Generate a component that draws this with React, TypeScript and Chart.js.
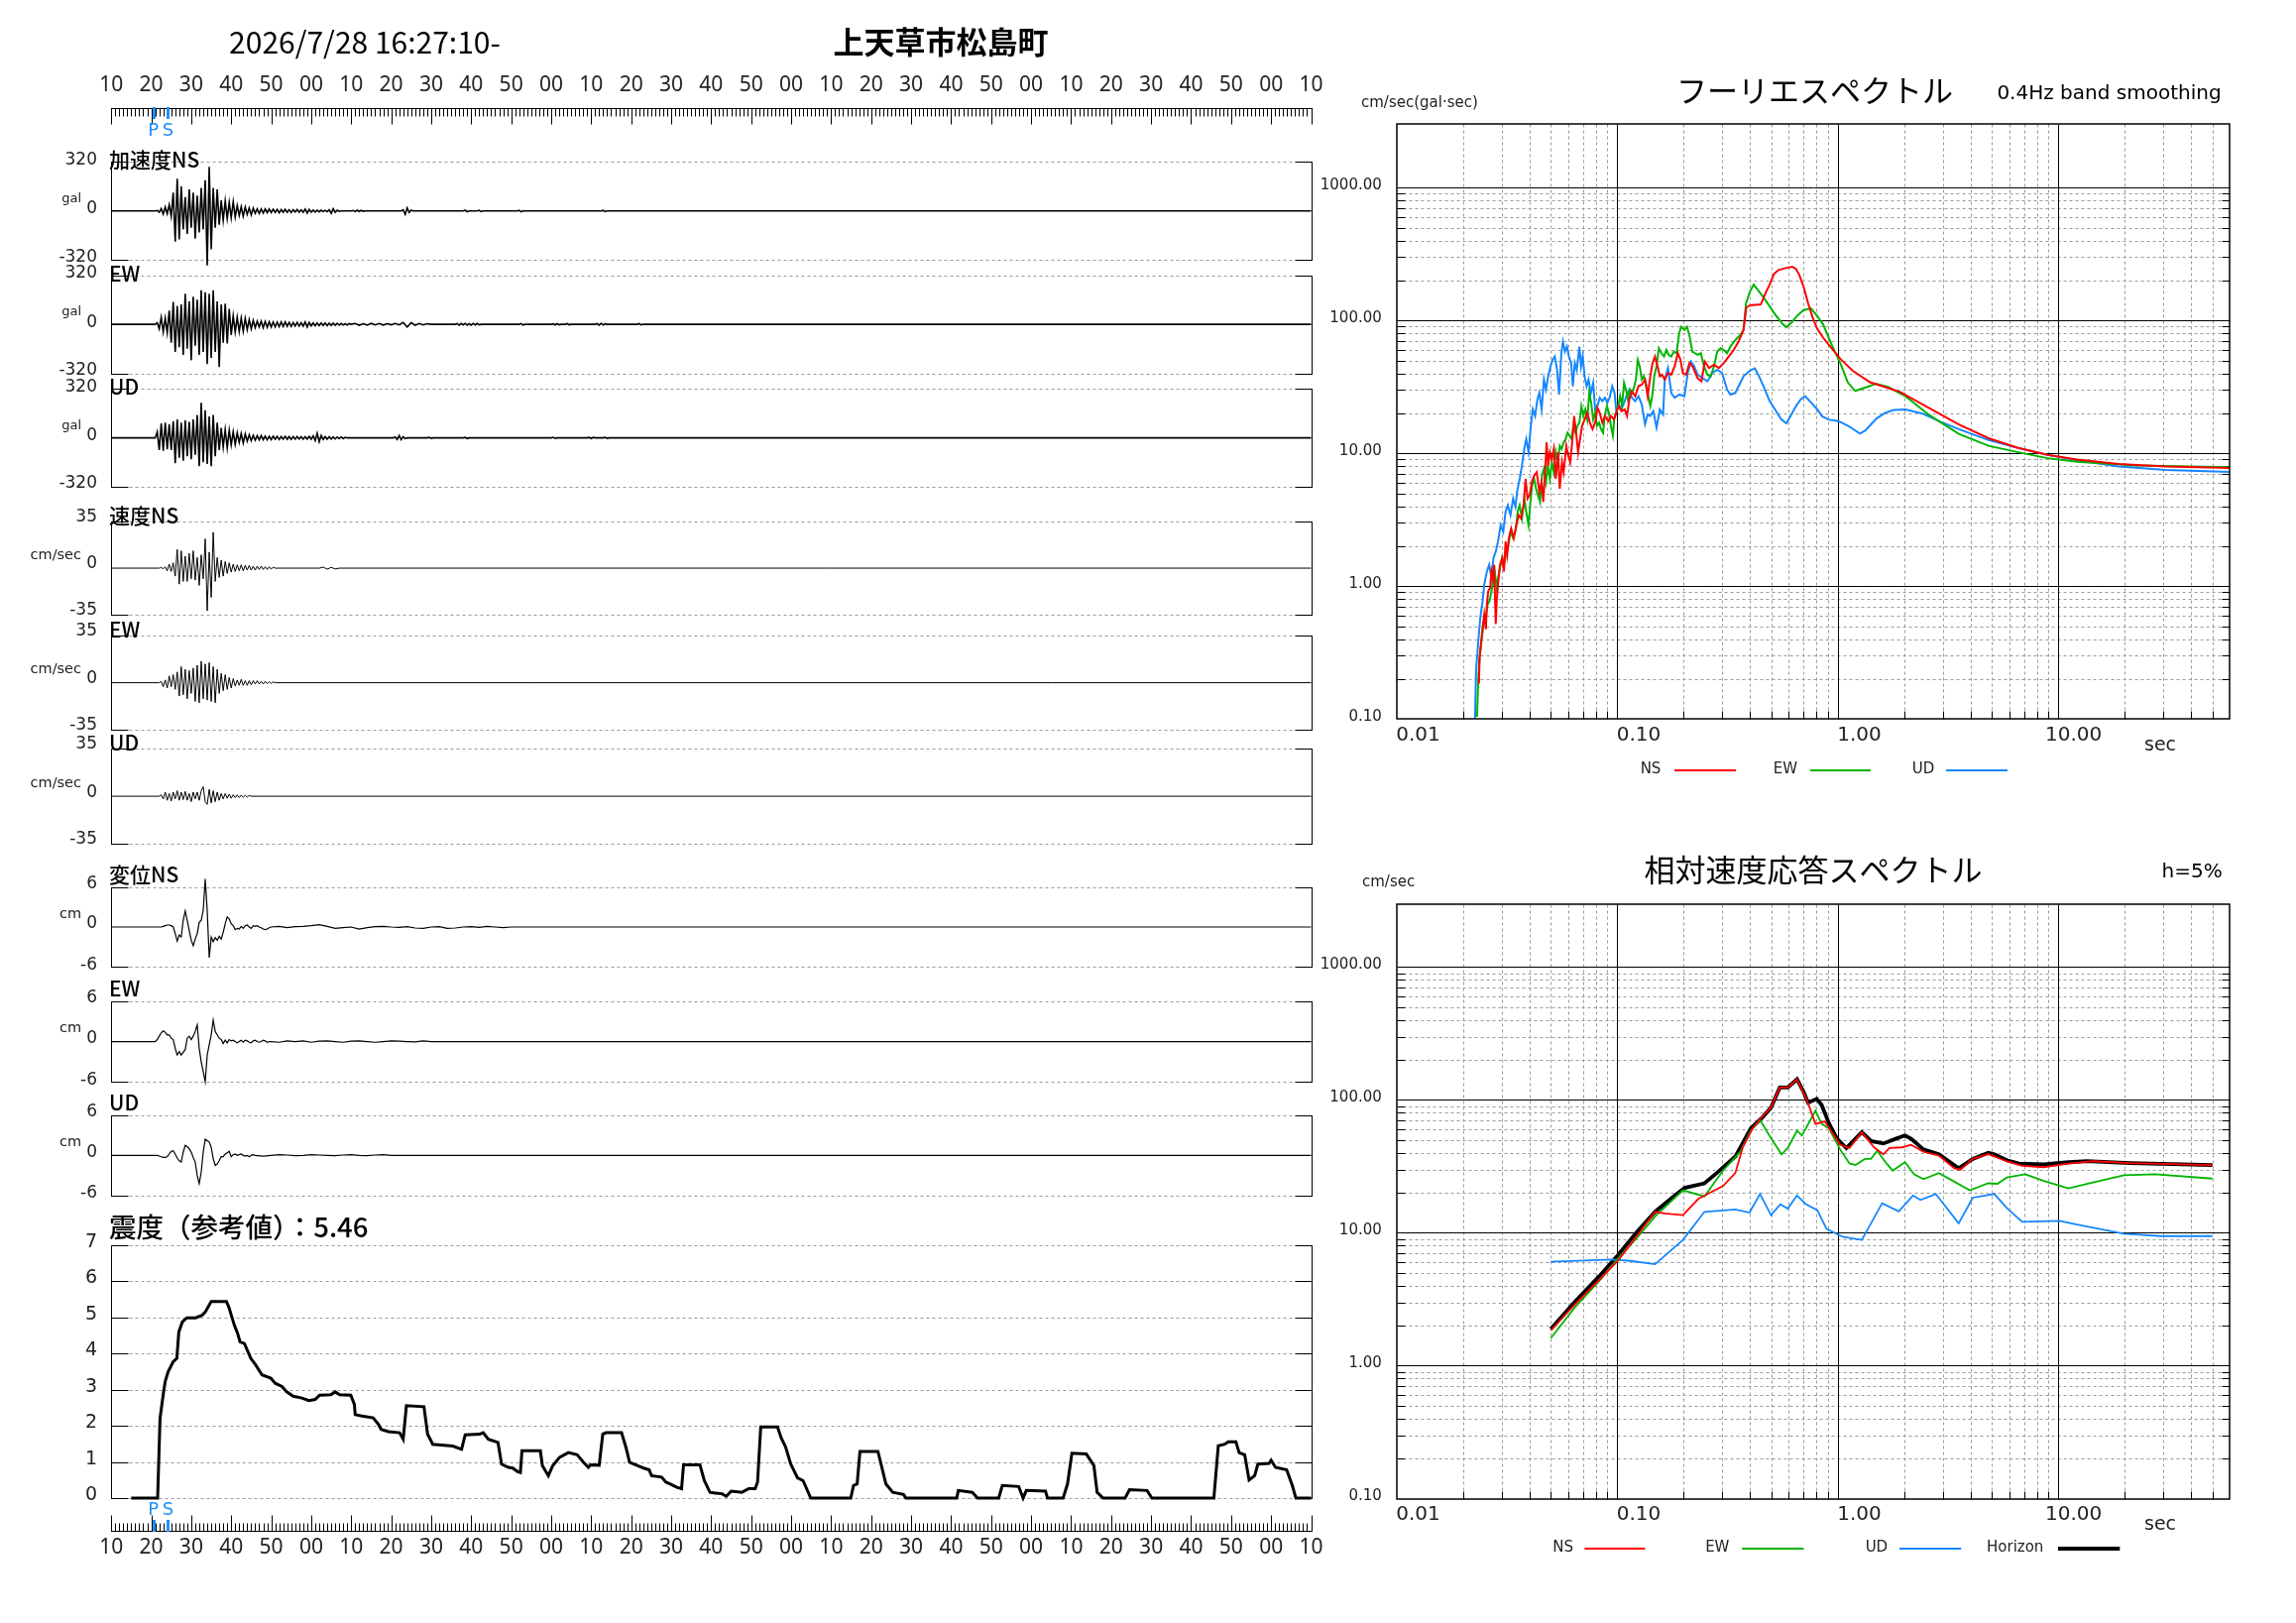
import React, { useEffect, useRef } from "react";
import { Chart, registerables } from "chart.js";
Chart.register(...registerables);

// ====================== DATA ======================
const TITLE_DATE = "2026/7/28 16:27:10-";
const TITLE_PLACE = "上天草市松島町";
// seconds after 16:27:10
const TIME_TICK_LABELS = ["10","20","30","40","50","00","10","20","30","40","50","00","10","20","30","40","50","00","10","20","30","40","50","00","10","20","30","40","50","00","10"];
const P_TIME = 10.5;
const S_TIME = 14.2;

const ACC_RANGE = 320;
const VEL_RANGE = 35;
const DISP_RANGE = 6;

// wave segments: [start time (s), sample step (s), values]
type Seg = [number, number, number[]];

const ACC_NS: Seg[] = [
  [11, 0.5, [0,3,-8,15,-20,25,-18,40,-35,120,-200,210,-185,160,-120,90,-150,140,-110,120,-180,100,-140,150,-120,200,-355,288,-250,150,-110,140,-90,70,-60,65,-50,55,-45,60,-40,35,-30,28,-35,25,-22,20,-25,18,-15,14,-16,12,-14,13,-11,12,-10,11,-9,10,-12,9,-8,10,-9,8,-10,8,-7,9,-8,7,-9,12,-14,10,-8,6,-7,5,-6,5,-4,4,-5,8,-15,14,-9,5,-3,0]],
  [60, 0.5, [0,3,-4,5,-3,4,-2,0]],
  [72.5, 0.5, [0,8,-22,20,-10,6,0]],
  [88, 0.5, [0,5,-5,0]],
  [91.5, 0.5, [0,4,-4,0]],
  [101.5, 0.5, [0,4,-5,0]],
  [122.5, 0.5, [0,4,-4,0]],
];
const ACC_EW: Seg[] = [
  [11, 0.5, [0,10,-30,45,-50,40,-55,90,-120,146,-180,120,-150,130,-200,200,-160,150,-235,180,-140,160,-200,222,-180,210,-260,200,-220,222,-180,150,-280,130,-120,135,-126,100,-70,55,-50,45,-48,40,-45,38,-35,30,-30,25,-22,20,-18,20,-22,18,-20,16,-18,15,-17,14,-16,15,-14,16,-13,12,-14,11,-12,13,-11,10,-12,15,-18,12,-10,9,-10,8,-9,8,-7,8,-9,7,-8,7,-6,7,-6,5,-5,4,-5,4,0]],
  [60, 1, [0,5,-6,4,-5,6,-4,5,-5,4,-3,5,-4,12,-18,10,-6,5,-4,4,0]],
  [86, 0.5, [0,4,-6,5,-4,6,-5,4,-5,6,-4,5,-3,0]],
  [102, 0.5, [0,5,-5,0]],
  [110, 0.5, [0,3,-4,4,-3,0]],
  [113.5, 0.5, [0,4,-3,0]],
  [121, 0.5, [0,4,-5,6,-4,3,0]],
  [131.5, 0.5, [0,4,-4,0]],
];
const ACC_UD: Seg[] = [
  [11, 0.5, [0,40,-80,95,-85,100,-75,90,-80,110,-165,120,-130,100,-150,115,-120,105,-140,120,-110,150,-185,230,-160,180,-170,140,-185,150,-120,100,-80,65,-60,55,-65,50,-45,40,-42,33,-30,28,-33,25,-22,20,-18,16,-15,14,-13,15,-12,11,-13,10,-12,11,-9,10,-11,9,-8,10,-9,8,-10,9,-8,9,-7,8,-9,7,-8,10,-9,12,-18,30,-25,15,-10,8,-9,7,-8,6,-7,6,-5,6,-5,4,0]],
  [70.5, 0.5, [0,6,-10,15,-12,8,-5,0]],
  [79, 0.5, [0,3,-3,0]],
  [88, 0.5, [0,3,-4,0]],
  [110, 0.5, [0,4,-3,0]],
  [119, 0.5, [0,3,-4,3,0]],
  [123, 0.5, [0,3,-3,0]],
];
const VEL_NS: Seg[] = [
  [12, 0.5, [0,0.5,-0.5,1,-2,3,-2.5,4,-6,14,-12,13,-10,9,-10,11,-8,13,-9,8,-13,10,-8,22,-32,12,-22,27,-10,8,-7,6,-6,5,-4,4,-3,3,-2.5,2.5,-2,2.5,-2,2,-1.5,2,-1.5,1.5,-1.5,1.5,-1,1.5,-1,1,-1,1,-0.8,0.8,0]],
  [52, 1, [0,0.8,-0.8,0.6,-0.6,0]],
];
const VEL_EW: Seg[] = [
  [12, 0.5, [0,1,-3,2,-4,5,-3,6,-5,8,-10,12,-9,10,-12,9,-8,11,-14,13,-15,16,-12,14,-13,15,-14,12,-15,10,-8,7,-6,6,-5,4,-4,3,-2.5,2,-2,2.5,-2,1.5,-2,1.5,-1.5,1.5,-1,1.5,-1,1,-1,1,-0.8,0.8,-0.6,0.6,0]],
];
const VEL_UD: Seg[] = [
  [12, 0.5, [0,1,-2,3,-3,2,-3.5,3,-2,4,-3,3,-2.5,3.5,-3,2,-4,3,-2,3,-3,4,7,-4,-6,5,-5,4,-4,3,-3,2,-2,2,-1.5,1.5,-1.5,1,-1,1,-1,0.8,-0.8,0.6,-0.6,0.5,0]],
];
const DISP_NS: Seg[] = [
  [12, 0.5, [0,0,0.1,0.2,0.3,0.3,0.2,0,-1.0,-2.1,-1.2,-1.5,1.0,2.4,1.0,-0.5,-2.0,-2.8,-1.8,-1.0,0.7,1.0,2.5,7.2,2.4,-4.6,-1.5,-2.2,-1.6,-2.0,-1.4,-1.8,-0.8,0.5,1.5,1.2,0.5,0.2,-0.4,-0.2,-0.3,0.1,-0.2,0.2,0.3,0,-0.2,0.2,0.1,0.2,0,-0.1,-0.3,-0.4,-0.3,-0.1,0]],
  [40, 2, [0,0.1,-0.1,0.05,0.1,0.2,0.35,0.1,-0.2,-0.1,0,-0.3,-0.1,0.05,0.1,0,-0.05,0.05,-0.15,-0.2,0,0.05,-0.2,-0.15,0,0.05,-0.05,0.1,0,-0.1,0]],
];
const DISP_EW: Seg[] = [
  [11, 0.5, [0,0.3,0.8,1.3,1.6,1.4,1.0,1.0,0.5,0.3,-1.0,-2.0,-1.5,-2.0,-1.6,-1.2,0.5,0.8,0.3,0.8,1.5,2.5,-1.0,-3.0,-4.5,-6.0,-2.0,-0.5,1.0,3.2,1.5,1.0,0.5,0.3,-0.3,0.2,-0.2,0.3,0.1,0.2,0,-0.2,0,0.2,-0.1,0.2,0.1,-0.1,-0.2,0.1,0.2,0,-0.1,0,0.2,0.1,-0.1,0,0]],
  [40, 2, [0,-0.1,0.1,0,0.1,-0.1,0.05,0.1,0,-0.1,0.05,0.1,0,-0.1,0,0.1,0.05,0,-0.05,0.1,0]],
];
const DISP_UD: Seg[] = [
  [11.5, 0.5, [0,-0.1,-0.2,-0.3,-0.3,-0.2,0.2,0.6,0.7,0.2,-0.4,-0.8,-1.0,0.5,1.5,1.3,1.0,0.5,-0.3,-1.0,-3.0,-4.2,-2.5,0.5,2.4,2.2,2.0,1.2,-0.5,-1.5,-1.3,-0.8,-0.2,-0.2,0.2,0.4,0.6,-0.2,0.1,0.2,0,0.1,0.2,0,-0.1,0,-0.2,0,0.1,0]],
  [36, 2, [0,-0.1,0,0.1,0.05,-0.05,0,0.1,0.05,0,-0.05,0.05,0.1,0,-0.05,0.05,0.1,0]],
];

// seismic intensity (reference value)
const INTENSITY_LABEL = "震度（参考値）：";
const INTENSITY_MAX_LABEL = "5.46";
const INTENSITY_TICKS = [0, 1, 2, 3, 4, 5, 6, 7];
const INTENSITY_T = [5.0,11.6,12.2,13.1,13.5,14.2,15.5,16.4,16.9,17.8,18.9,21.1,22.7,23.5,25.0,28.8,29.4,30.8,31.6,32.2,33.3,34.9,36.1,37.7,39.9,41.0,42.7,43.8,45.5,47.7,49.4,51.0,52.1,54.9,56.0,57.1,59.9,60.8,61.0,62.7,65.5,66.8,67.5,69.3,72.1,73.0,73.8,78.2,79.1,80.4,83.2,85.4,87.6,88.5,92.1,93.0,94.3,96.7,97.6,99.3,100.4,101.5,102.3,102.7,107.3,107.8,109.3,110.4,112.1,114.3,116.5,118.1,119.3,119.8,122.0,122.9,123.7,127.6,128.7,129.6,131.5,133.1,134.5,135.1,137.6,138.7,139.8,141.4,142.6,143.1,147.2,148.3,149.7,151.1,152.7,153.8,155.0,157.7,159.4,161.0,161.6,162.4,166.6,167.5,168.6,169.9,171.6,173.0,174.9,184.9,185.6,186.5,187.2,191.7,193.7,195.4,198.1,198.7,211.4,211.8,215.3,216.6,221.9,222.8,226.9,228.0,228.8,233.6,234.1,238.0,239.1,240.2,243.8,245.7,246.5,248.0,253.5,254.6,259.0,260.2,275.7,276.8,278.4,279.3,281.2,282.0,283.4,284.5,285.9,286.7,289.5,290.0,291.1,293.9,295.3,296.2,300.0];
const INTENSITY_V = [0,0,2.2,2.95,3.23,3.49,3.78,3.87,4.6,4.88,4.99,4.99,5.06,5.15,5.44,5.44,5.29,4.78,4.56,4.33,4.28,3.87,3.69,3.41,3.32,3.18,3.09,2.95,2.82,2.77,2.70,2.73,2.85,2.86,2.94,2.86,2.85,2.59,2.31,2.27,2.22,2.04,1.90,1.84,1.81,1.63,2.56,2.53,1.77,1.49,1.46,1.44,1.35,1.75,1.77,1.81,1.63,1.54,0.94,0.85,0.83,0.74,0.71,1.31,1.31,0.90,0.62,0.90,1.13,1.26,1.20,0.99,0.85,0.92,0.91,1.77,1.81,1.81,1.40,0.99,0.90,0.83,0.78,0.62,0.58,0.44,0.39,0.30,0.26,0.92,0.92,0.48,0.16,0.14,0.12,0.05,0.19,0.16,0.26,0.26,0.44,1.97,1.97,1.67,1.42,0.94,0.56,0.48,0,0,0.35,0.39,1.29,1.29,0.39,0.16,0.10,0,0,0.21,0.16,0,0,0.35,0.32,0,0.21,0.19,0,0,0.39,1.24,1.22,0.90,0.16,0,0,0.23,0.21,0,0,1.45,1.49,1.56,1.56,1.26,1.20,0.50,0.62,0.94,0.96,1.05,0.85,0.78,0.35,0,0];

// spectra axes
const SPEC_X_TICKS = [0.01, 0.1, 1, 10];
const SPEC_X_LABELS = ["0.01", "0.10", "1.00", "10.00"];
const SPEC_Y_TICKS = [0.1, 1, 10, 100, 1000];
const SPEC_Y_LABELS = ["0.10", "1.00", "10.00", "100.00", "1000.00"];

// Fourier spectrum (period s, cm/sec)
const FOURIER_NS_T = [0.02362,0.02378,0.02411,0.02454,0.02496,0.02539,0.02566,0.02602,0.02655,0.02692,0.02729,0.02766,0.02814,0.02843,0.02882,0.02942,0.03014,0.03066,0.03118,0.03172,0.03227,0.03305,0.03397,0.03491,0.03576,0.03664,0.03765,0.03843,0.03923,0.04005,0.04102,0.04201,0.04318,0.04437,0.04544,0.04624,0.04720,0.04785,0.04868,0.04952,0.05056,0.05161,0.05268,0.05395,0.05489,0.05622,0.05718,0.05877,0.06000,0.06124,0.06252,0.06381,0.06515,0.06650,0.06788,0.06929,0.07120,0.07318,0.07521,0.07730,0.07945,0.08137,0.08334,0.08565,0.08803,0.09113,0.09367,0.09661,0.09894,0.1017,0.1045,0.1082,0.1108,0.1135,0.1166,0.1207,0.1249,0.1293,0.1338,0.1375,0.1413,0.1447,0.1483,0.1524,0.1561,0.1599,0.1643,0.1700,0.1759,0.1821,0.1884,0.1937,0.1984,0.2053,0.2125,0.2199,0.2315,0.2411,0.2495,0.2610,0.2748,0.2892,0.3044,0.3206,0.3374,0.3552,0.3739,0.385,0.40,0.448,0.47,0.491,0.515,0.539,0.58,0.622,0.645,0.669,0.70,0.734,0.77,0.806,0.86,0.912,1.03,1.167,1.40,1.91,2.6,3.54,4.83,6.57,8.93,12.2,18.8,30.8,60];
const FOURIER_NS_A = [0.185,0.292,0.367,0.489,0.615,0.475,0.730,0.918,0.972,1.29,1.15,1.45,0.518,0.773,1.03,1.45,1.63,1.29,2.17,1.72,2.30,2.72,2.30,2.88,3.43,3.24,4.07,6.43,4.56,4.83,6.07,6.81,7.21,5.12,6.07,4.31,7.64,12.1,8.08,10.2,9.07,10.8,6.43,10.2,5.42,8.57,7.21,11.4,9.60,8.57,12.1,19.1,14.3,10.2,12.8,16.1,18.0,20.2,17.0,15.2,17.0,22.0,20.2,17.0,19.1,17.5,19.1,18.0,20.2,22.7,20.8,21.4,19.1,25.4,29.4,26.9,32.0,32.9,35.9,26.9,38.0,47.8,53.6,45.1,38.0,39.1,35.9,40.2,39.1,45.1,56.7,50.6,40.2,39.1,47.8,45.1,36.9,34.8,49.1,43.9,46.4,43.9,47.8,53.6,60.0,69.3,84.8,125,130,132,160,186,225,240,248,254,245,221,180,135,105,87,74,65.5,51.3,42,34.3,29.1,21.9,16.5,13.0,11.0,9.76,9.0,8.3,7.96,7.78];
const FOURIER_EW_T = [0.02315,0.02347,0.02378,0.02428,0.02478,0.02539,0.02583,0.02636,0.02692,0.02748,0.02786,0.02843,0.02882,0.02942,0.03003,0.03066,0.03129,0.03194,0.03283,0.03374,0.03456,0.03540,0.03613,0.03701,0.03791,0.03870,0.03963,0.04031,0.04115,0.04201,0.04288,0.04377,0.04468,0.04560,0.04656,0.04753,0.04851,0.04952,0.05056,0.05161,0.05268,0.05377,0.05489,0.05603,0.05718,0.05838,0.05959,0.06082,0.06209,0.06339,0.06470,0.06604,0.06741,0.06882,0.07025,0.07170,0.07318,0.07470,0.07625,0.07783,0.07945,0.08110,0.08279,0.08450,0.08626,0.08803,0.08989,0.09177,0.09367,0.09561,0.09694,0.09894,0.1010,0.1031,0.1052,0.1074,0.1096,0.1119,0.1142,0.1166,0.1191,0.1215,0.1241,0.1266,0.1293,0.1320,0.1347,0.1375,0.1413,0.1442,0.1472,0.1509,0.1545,0.1588,0.1632,0.1671,0.1712,0.1759,0.1808,0.1858,0.1910,0.1950,0.2018,0.2074,0.2132,0.2191,0.2253,0.2315,0.2396,0.2478,0.2565,0.2655,0.2748,0.2843,0.2943,0.3044,0.3150,0.3261,0.3432,0.3613,0.3739,0.384,0.40,0.416,0.44,0.4625,0.52,0.56,0.585,0.62,0.649,0.70,0.757,0.80,0.857,0.94,1.03,1.11,1.2,1.36,1.49,1.69,2.03,2.6,3.54,4.83,6.57,8.93,12.2,22.6,60];
const FOURIER_EW_A = [0.104,0.207,0.292,0.389,0.518,0.581,0.730,0.773,0.918,1.09,1.29,0.972,1.15,1.37,1.63,1.45,1.72,1.93,2.57,2.30,2.57,3.63,4.07,3.24,4.56,3.63,2.88,4.07,5.74,6.43,5.42,4.83,4.31,6.81,7.64,6.07,8.08,6.43,8.57,7.21,10.2,8.57,11.4,10.8,12.1,12.8,14.3,13.6,12.8,16.1,14.3,16.1,17.0,22.7,19.1,21.4,18.0,28.5,24.0,18.0,20.2,16.1,17.0,15.2,14.3,19.6,22.7,20.2,16.1,13.6,18.0,20.2,22.7,26.9,22.7,33.9,30.2,25.4,30.2,28.5,31.1,35.9,50.6,45.1,35.9,38.0,33.9,28.5,22.7,26.9,38.0,45.1,61.8,56.7,53.6,60.0,55.1,53.6,58.4,56.7,80.0,89.7,84.8,89.7,75.5,58.4,56.7,55.1,56.7,45.1,39.1,38.0,45.1,58.4,61.8,60.0,56.7,63.6,71.3,77.6,84.8,135,165,186,165,148,111,95,89,97,107,120,123,110,94,65.5,47.3,34.3,29.5,31.6,33.4,31.6,26.9,19.4,14.0,11.4,10.2,9.2,8.65,8.1,7.86];
const FOURIER_UD_T = [0.02267,0.02291,0.02347,0.02395,0.02454,0.02496,0.02566,0.02628,0.02692,0.02748,0.02814,0.02882,0.02962,0.03044,0.03118,0.03194,0.03283,0.03374,0.03456,0.03516,0.03613,0.03701,0.03791,0.03870,0.03963,0.04059,0.04143,0.04244,0.04347,0.04437,0.04544,0.04656,0.04753,0.04868,0.04986,0.05089,0.05213,0.05340,0.05451,0.05583,0.05679,0.05798,0.05918,0.06041,0.06187,0.06295,0.06425,0.06558,0.06741,0.06857,0.06975,0.07120,0.07268,0.07419,0.07599,0.07783,0.07945,0.08137,0.08334,0.08565,0.08803,0.09016,0.09239,0.09496,0.09727,0.09894,0.1017,0.1045,0.1074,0.1108,0.1135,0.1166,0.1207,0.1249,0.1293,0.1338,0.1375,0.1413,0.1458,0.1509,0.1561,0.1615,0.1643,0.1700,0.1759,0.1821,0.1917,0.2018,0.2089,0.2162,0.2237,0.2315,0.2437,0.2565,0.2700,0.2843,0.2992,0.3150,0.3261,0.3432,0.3613,0.3739,0.40,0.421,0.44,0.4625,0.49,0.523,0.555,0.585,0.62,0.649,0.68,0.712,0.76,0.806,0.85,0.912,0.97,1.03,1.13,1.26,1.33,1.40,1.5,1.64,1.8,2.03,2.45,2.94,3.54,4.83,6.57,8.93,12.2,18.8,30.8,60];
const FOURIER_UD_A = [0.101,0.232,0.389,0.581,0.773,1.03,1.29,1.45,1.15,1.63,1.82,2.17,2.88,2.57,3.63,4.07,3.43,4.56,3.95,5.12,6.43,8.08,10.8,12.8,10.2,16.1,21.4,19.1,25.4,28.5,21.4,35.9,30.2,38.0,45.1,50.6,53.6,42.6,27.7,56.7,69.3,58.4,63.6,53.6,47.8,32.0,47.8,42.6,63.6,45.1,53.6,38.0,32.0,35.9,28.5,33.9,21.4,22.7,26.2,24.7,26.2,24.0,26.2,32.0,28.5,21.4,23.3,21.4,24.0,27.7,30.2,26.2,24.7,26.9,23.3,16.6,19.6,19.1,20.8,15.6,21.4,19.6,35.9,43.9,28.5,26.2,27.7,26.9,40.2,49.1,45.1,39.1,36.9,34.8,40.2,42.6,40.2,30.2,27.7,28.5,33.9,38.0,42,43.7,38,31.6,25,21,18,16.8,20,22.9,25.5,26.9,24,21.5,19,17.9,17.7,17.2,15.9,14.1,14.8,16.2,18.3,20.2,21.2,21.4,19.8,17.2,15.2,12.6,11.0,9.76,8.85,7.96,7.5,7.24];

// relative velocity response spectrum h=5% (period s, cm/sec)
const RESP_NS_T = [0.05,0.0643,0.0832,0.101,0.1225,0.1486,0.1637,0.1986,0.2333,0.2569,0.3018,0.3433,0.3709,0.4112,0.4442,0.4987,0.5459,0.5935,0.6537,0.72,0.7929,0.8735,0.9316,1.026,1.13,1.286,1.462,1.611,1.718,1.954,2.152,2.448,2.876,3.378,3.603,4.098,4.814,5.841,6.861,8.597,11.12,14.39,21.18,50];
const RESP_NS_V = [1.84,2.9,4.45,6.2,9.4,14.4,14.0,13.6,18,19.6,22.5,28.2,44,61,71.8,88,124,124,143,103,66,69,58.7,46,43.4,57.3,44,39,43.5,44,46,40.7,38.1,30.6,29.9,36,39,34.6,31.9,31.2,33.2,34.6,33.5,32.4];
const RESP_EW_T = [0.05,0.0643,0.0832,0.101,0.1225,0.1486,0.1986,0.2487,0.3018,0.3614,0.4034,0.4442,0.4893,0.5565,0.5935,0.6537,0.6882,0.7929,0.8458,0.9138,1.026,1.13,1.205,1.328,1.416,1.51,1.663,1.774,2.018,2.223,2.448,2.876,3.271,3.968,4.814,5.303,5.841,7.086,8.597,11.12,14.39,19.86,27.41,50];
const RESP_EW_V = [1.61,2.75,4.37,6.4,9.1,13.3,20.9,18.8,29.4,40.8,58.7,70.8,54,39,43.5,58.7,54,83,66,61,42.4,33.3,32.4,36,36,41.4,33.3,29.4,34,27.5,25.4,28.2,25,20.9,23.6,23.4,26.1,27.6,24.6,21.6,24,27.1,27.6,25.6];
const RESP_UD_T = [0.05,0.0709,0.0947,0.1149,0.1486,0.1986,0.2487,0.3433,0.3981,0.4442,0.4987,0.5494,0.5935,0.6537,0.72,0.8085,0.8906,1.06,1.286,1.59,1.892,2.194,2.371,2.785,3.534,4.098,5.135,5.841,6.861,10.1,12.65,19.86,29.23,50];
const RESP_UD_V = [6.05,6.2,6.3,6.15,5.8,8.85,14.4,15,14.2,19.6,13.6,16.4,15.2,19.1,16.4,14.8,10.7,9.3,8.85,16.7,14.5,19.1,17.7,19.6,11.8,18.4,19.6,15.4,12.1,12.3,11.4,9.84,9.45,9.45];
const RESP_H_T = [0.05,0.0643,0.0832,0.101,0.1225,0.1486,0.1803,0.2025,0.2487,0.2829,0.3433,0.4034,0.4587,0.4987,0.5459,0.5935,0.6537,0.6971,0.734,0.8032,0.8458,0.9138,0.9936,1.094,1.286,1.416,1.611,1.832,2.018,2.152,2.448,2.876,3.534,4.098,4.814,5.135,5.841,6.643,8.597,11.12,13.49,21.18,50];
const RESP_H_V = [1.89,3.03,4.74,6.82,10.1,14.4,18.8,21.8,23.6,28.2,37.5,61,74.8,88,124,124,143,117,95.5,102,91.6,66.2,51,43.4,57.3,49,47,51,54,51,42.4,39,30.6,36,40,39,35.2,33.2,32.7,34,34.6,33.5,32.4];

// ====================== LAYOUT / STYLE ======================
const W = 2316, H = 1637;
const PLOT_L = 112.2, PLOT_R = 1322.5;
const RED = "#ff0000", GREEN = "#00b400", BLUE = "#1487ff", PS_BLUE = "#1e8fff";
const NUM_FONT = '17px "DejaVu Sans"';
const TIME_FONT = '21px "Noto Sans"';
const NAME_FONT = '500 21px "Noto Sans CJK JP"';

type Box = { left: number; top: number; width: number; height: number };
type Area = { l: number; t: number; r: number; b: number };

const c = (v: number) => Math.round(v) + 0.5;
function line(ctx: any, x1: number, y1: number, x2: number, y2: number) {
  ctx.beginPath(); ctx.moveTo(x1, y1); ctx.lineTo(x2, y2); ctx.stroke();
}
function txt(ctx: any, s: string, x: number, y: number, font: string, align: CanvasTextAlign = "left", color = "#000") {
  ctx.font = font; ctx.textAlign = align; ctx.textBaseline = "middle"; ctx.fillStyle = color; ctx.fillText(s, x, y);
}

function baseOptions(box: Box, area: Area, x: any, y: any) {
  return {
    responsive: false, maintainAspectRatio: false, animation: false, devicePixelRatio: 1, events: [],
    layout: { padding: { left: area.l - box.left, right: box.left + box.width - area.r, top: area.t - box.top, bottom: box.top + box.height - area.b } },
    plugins: { legend: { display: false }, tooltip: { enabled: false }, title: { display: false } },
    scales: { x: { ...x, display: false }, y: { ...y, display: false } },
  };
}

function traceFromSegs(segs: Seg[]) {
  const pts: { x: number; y: number }[] = [{ x: 0, y: 0 }];
  for (const [t0, step, vals] of segs) vals.forEach((v, i) => pts.push({ x: t0 + i * step, y: v }));
  pts.push({ x: 300, y: 0 });
  return pts;
}

function drawRuler(ctx: any, sx: (v: number) => number, y: number, dir: number, labelY: number, psTextY: number, psY0: number, psY1: number) {
  ctx.strokeStyle = "#000"; ctx.lineWidth = 1; ctx.setLineDash([]);
  line(ctx, c(PLOT_L) - 0.5, c(y), c(PLOT_R) + 0.5, c(y));
  for (let s = 0; s <= 300; s++) {
    const x = c(sx(s));
    const len = s % 10 === 0 ? 16 : 8;
    line(ctx, x, c(y), x, c(y) + dir * len);
  }
  TIME_TICK_LABELS.forEach((lab, i) => txt(ctx, lab, sx(i * 10), labelY, TIME_FONT, "center", "#222"));
  ctx.fillStyle = PS_BLUE;
  for (const t of [P_TIME, S_TIME]) ctx.fillRect(Math.round(sx(t)) - 1, psY0, 3, psY1 - psY0);
  txt(ctx, "P", sx(P_TIME), psTextY, '18px "DejaVu Sans"', "center", PS_BLUE);
  txt(ctx, "S", sx(S_TIME), psTextY, '18px "DejaVu Sans"', "center", PS_BLUE);
}

function ChartBox({ box, build }: { box: Box; build: () => any }) {
  const ref = useRef<HTMLCanvasElement | null>(null);
  useEffect(() => {
    if (!ref.current) return;
    const chart = new Chart(ref.current, build());
    return () => chart.destroy();
  }, []);
  return (
    <canvas ref={ref} width={box.width} height={box.height}
      style={{ position: "absolute", left: box.left, top: box.top, width: box.width, height: box.height }} />
  );
}

// ---------- header (titles + top time ruler) ----------
const HEADER_BOX: Box = { left: 0, top: 0, width: 1400, height: 145 };
const RULER_TOP_Y = 109;
function buildHeader() {
  const box = HEADER_BOX;
  const area = { l: PLOT_L, r: PLOT_R, t: RULER_TOP_Y, b: RULER_TOP_Y + 16 };
  return {
    type: "line",
    data: { datasets: [] },
    options: baseOptions(box, area, { type: "linear", min: 0, max: 300 }, { type: "linear", min: 0, max: 1 }),
    plugins: [{
      id: "header",
      afterDraw(chart: any) {
        const ctx = chart.ctx; ctx.save(); ctx.translate(-box.left, -box.top);
        const sx = (v: number) => chart.scales.x.getPixelForValue(v) + box.left;
        drawRuler(ctx, sx, RULER_TOP_Y, 1, 86, 132, 108, 120);
        txt(ctx, TITLE_DATE, 368, 43, '30px "Noto Sans CJK JP"', "center");
        txt(ctx, TITLE_PLACE, 949, 42, 'bold 31px "Noto Sans CJK JP"', "center");
        ctx.restore();
      },
    }],
  };
}

// ---------- waveform panels ----------
type Kind = "acc" | "vel" | "disp";
const KIND_STYLE: Record<Kind, any> = {
  acc: { nameDy: -2, topDy: -2, zeroDy: -2, botDy: -3, unitDy: -12, lw: 1.6, unitFont: '13px "DejaVu Sans"' },
  vel: { nameDy: -6, topDy: -5, zeroDy: -4, botDy: -4, unitDy: -13, lw: 1, unitFont: '14.5px "DejaVu Sans"' },
  disp: { nameDy: -13, topDy: -3, zeroDy: -3, botDy: -2, unitDy: -13, lw: 1.2, unitFont: '14.5px "DejaVu Sans"' },
};
type Panel = { name: string; unit: string; range: number; top: number; bottom: number; segs: Seg[]; kind: Kind };
const PANELS: Panel[] = [
  { name: "加速度NS", unit: "gal", range: ACC_RANGE, top: 163.3, bottom: 262.3, segs: ACC_NS, kind: "acc" },
  { name: "EW", unit: "gal", range: ACC_RANGE, top: 277.7, bottom: 376.5, segs: ACC_EW, kind: "acc" },
  { name: "UD", unit: "gal", range: ACC_RANGE, top: 392.3, bottom: 491.0, segs: ACC_UD, kind: "acc" },
  { name: "速度NS", unit: "cm/sec", range: VEL_RANGE, top: 526.1, bottom: 620.0, segs: VEL_NS, kind: "vel" },
  { name: "EW", unit: "cm/sec", range: VEL_RANGE, top: 641.4, bottom: 735.8, segs: VEL_EW, kind: "vel" },
  { name: "UD", unit: "cm/sec", range: VEL_RANGE, top: 755.2, bottom: 851.0, segs: VEL_UD, kind: "vel" },
  { name: "変位NS", unit: "cm", range: DISP_RANGE, top: 894.7, bottom: 975.3, segs: DISP_NS, kind: "disp" },
  { name: "EW", unit: "cm", range: DISP_RANGE, top: 1010.0, bottom: 1091.1, segs: DISP_EW, kind: "disp" },
  { name: "UD", unit: "cm", range: DISP_RANGE, top: 1124.8, bottom: 1205.9, segs: DISP_UD, kind: "disp" },
];
const panelBox = (p: Panel): Box => ({ left: 0, top: Math.floor(p.top - 30), width: 1400, height: Math.ceil(p.bottom - p.top + 48) });

function buildPanel(p: Panel) {
  const box = panelBox(p);
  const st = KIND_STYLE[p.kind];
  const area = { l: PLOT_L, r: PLOT_R, t: p.top, b: p.bottom };
  return {
    type: "line",
    data: { datasets: [{ data: traceFromSegs(p.segs), borderColor: "#000", borderWidth: st.lw, pointRadius: 0, tension: 0, fill: false, clip: 14 }] },
    options: baseOptions(box, area, { type: "linear", min: 0, max: 300 }, { type: "linear", min: -p.range, max: p.range }),
    plugins: [{
      id: "wavepanel",
      beforeDatasetsDraw(chart: any) {
        const ctx = chart.ctx; ctx.save(); ctx.translate(-box.left, -box.top);
        const L = c(PLOT_L), R = c(PLOT_R), T = c(p.top), B = c(p.bottom);
        ctx.lineWidth = 1; ctx.strokeStyle = "#9a9a9a"; ctx.setLineDash([3, 3]);
        line(ctx, L, T, R, T); line(ctx, L, B, R, B);
        ctx.setLineDash([]); ctx.strokeStyle = "#000";
        line(ctx, L, T, L, B); line(ctx, R, T, R, B);
        for (const y of [T, B]) { line(ctx, L - 0.5, y, L + 17, y); line(ctx, R - 17, y, R + 0.5, y); }
        ctx.restore();
      },
      afterDraw(chart: any) {
        const ctx = chart.ctx; ctx.save(); ctx.translate(-box.left, -box.top);
        const zero = chart.scales.y.getPixelForValue(0) + box.top;
        txt(ctx, String(p.range), 98, p.top + st.topDy, NUM_FONT, "right", "#222");
        txt(ctx, "0", 98, zero + st.zeroDy, NUM_FONT, "right", "#222");
        txt(ctx, "-" + p.range, 98, p.bottom + st.botDy, NUM_FONT, "right", "#222");
        txt(ctx, p.unit, 82, zero + st.unitDy, st.unitFont, "right", "#222");
        txt(ctx, p.name, 110, p.top + st.nameDy, NAME_FONT, "left", "#000");
        ctx.restore();
      },
    }],
  };
}

// ---------- intensity ----------
const INT_BOX: Box = { left: 0, top: 1215, width: 1400, height: 380 };
const INT_AREA: Area = { l: PLOT_L, r: PLOT_R, t: 1256, b: 1511 };
function buildIntensity() {
  const box = INT_BOX;
  return {
    type: "line",
    data: { datasets: [{ data: INTENSITY_T.map((t, i) => ({ x: t, y: INTENSITY_V[i] })), borderColor: "#000", borderWidth: 3, pointRadius: 0, tension: 0, fill: false, clip: 4 }] },
    options: baseOptions(box, INT_AREA, { type: "linear", min: 0, max: 300 }, { type: "linear", min: 0, max: 7 }),
    plugins: [{
      id: "intensity",
      beforeDatasetsDraw(chart: any) {
        const ctx = chart.ctx; ctx.save(); ctx.translate(-box.left, -box.top);
        const sy = (v: number) => chart.scales.y.getPixelForValue(v) + box.top;
        const L = c(PLOT_L), R = c(PLOT_R);
        ctx.lineWidth = 1; ctx.strokeStyle = "#9a9a9a"; ctx.setLineDash([3, 3]);
        for (const v of INTENSITY_TICKS) line(ctx, L, c(sy(v)), R, c(sy(v)));
        ctx.setLineDash([]); ctx.strokeStyle = "#000";
        line(ctx, L, c(sy(7)), L, c(sy(0))); line(ctx, R, c(sy(7)), R, c(sy(0)));
        for (const v of INTENSITY_TICKS) { const y = c(sy(v)); line(ctx, L - 0.5, y, L + 17, y); line(ctx, R - 17, y, R + 0.5, y); }
        ctx.restore();
      },
      afterDraw(chart: any) {
        const ctx = chart.ctx; ctx.save(); ctx.translate(-box.left, -box.top);
        const sx = (v: number) => chart.scales.x.getPixelForValue(v) + box.left;
        const sy = (v: number) => chart.scales.y.getPixelForValue(v) + box.top;
        for (const v of INTENSITY_TICKS) txt(ctx, String(v), 98, sy(v) - 3, '19px "DejaVu Sans"', "right", "#222");
        txt(ctx, INTENSITY_LABEL + INTENSITY_MAX_LABEL, 110, 1238, '500 27.5px "Noto Sans CJK JP"', "left", "#000");
        drawRuler(ctx, sx, 1544, -1, 1561, 1523, 1533, 1545);
        ctx.restore();
      },
    }],
  };
}

// ---------- spectra ----------
type LegendItem = { label: string; color: string; width: number; textX: number; x0: number; x1: number };
type SpecDef = {
  box: Box; area: Area; title: string; titleX: number; titleY: number;
  note: string; noteX: number; noteY: number; unit: string; unitX: number; unitY: number;
  legendY: number; legend: LegendItem[]; datasets: any[];
};

function specPlugin(d: SpecDef) {
  const { box, area } = d;
  const mk = (chart: any) => ({
    sx: (v: number) => chart.scales.x.getPixelForValue(v) + box.left,
    sy: (v: number) => chart.scales.y.getPixelForValue(v) + box.top,
  });
  return {
    id: "spec",
    beforeDatasetsDraw(chart: any) {
      const ctx = chart.ctx; ctx.save(); ctx.translate(-box.left, -box.top);
      const { sx, sy } = mk(chart);
      const L = c(area.l), R = c(area.r), T = c(area.t), B = c(area.b);
      ctx.lineWidth = 1; ctx.strokeStyle = "#9a9a9a"; ctx.setLineDash([3, 3]);
      const xMinor: number[] = [], yMinor: number[] = [];
      for (const n of [-2, -1, 0, 1]) for (let k = 2; k <= 9; k++) { const v = k * Math.pow(10, n); if (v < 60) xMinor.push(v); }
      for (const n of [-1, 0, 1, 2]) for (let k = 2; k <= 9; k++) yMinor.push(k * Math.pow(10, n));
      for (const v of xMinor) { const x = c(sx(v)); line(ctx, x, T, x, B); }
      for (const v of yMinor) { const y = c(sy(v)); line(ctx, L, y, R, y); }
      ctx.setLineDash([]); ctx.strokeStyle = "#000";
      for (const v of xMinor) { const x = c(sx(v)); line(ctx, x, B, x, B - 8); }
      for (const v of yMinor) { const y = c(sy(v)); line(ctx, L, y, L + 8, y); line(ctx, R - 8, y, R, y); }
      for (const v of [0.1, 1, 10]) { const x = c(sx(v)); line(ctx, x, T, x, B); }
      for (const v of [1, 10, 100, 1000]) { const y = c(sy(v)); line(ctx, L, y, R, y); }
      ctx.restore();
    },
    afterDatasetsDraw(chart: any) {
      const ctx = chart.ctx; ctx.save(); ctx.translate(-box.left, -box.top);
      ctx.strokeStyle = "#000"; ctx.lineWidth = 1.5; ctx.setLineDash([]);
      ctx.strokeRect(Math.round(area.l), Math.round(area.t), Math.round(area.r) - Math.round(area.l), Math.round(area.b) - Math.round(area.t));
      ctx.restore();
    },
    afterDraw(chart: any) {
      const ctx = chart.ctx; ctx.save(); ctx.translate(-box.left, -box.top);
      const { sx, sy } = mk(chart);
      SPEC_Y_TICKS.forEach((v, i) => txt(ctx, SPEC_Y_LABELS[i], area.l - 15, sy(v) - 2, '15px "DejaVu Sans"', "right", "#222"));
      SPEC_X_TICKS.forEach((v, i) => txt(ctx, SPEC_X_LABELS[i], sx(v) + 44, area.b + 16.5, '20px "DejaVu Sans"', "right", "#222"));
      txt(ctx, "sec", 2179, area.b + 27, '19px "DejaVu Sans"', "center", "#222");
      txt(ctx, d.title, d.titleX, d.titleY, '31px "Noto Sans CJK JP"', "center", "#000");
      txt(ctx, d.note, d.noteX, d.noteY, '20px "DejaVu Sans"', "left", "#000");
      txt(ctx, d.unit, d.unitX, d.unitY, '15px "DejaVu Sans"', "left", "#222");
      for (const it of d.legend) {
        txt(ctx, it.label, it.textX, d.legendY, '15px "DejaVu Sans"', "center", "#222");
        ctx.strokeStyle = it.color; ctx.lineWidth = it.width; ctx.setLineDash([]);
        line(ctx, it.x0, d.legendY + 1, it.x1, d.legendY + 1);
      }
      ctx.restore();
    },
  };
}

function specDataset(T: number[], V: number[], color: string, width: number) {
  return { data: T.map((t, i) => ({ x: t, y: V[i] })), borderColor: color, borderWidth: width, pointRadius: 0, tension: 0, fill: false };
}

function buildSpec(d: SpecDef) {
  return {
    type: "line",
    data: { datasets: d.datasets },
    options: baseOptions(d.box, d.area, { type: "logarithmic", min: 0.01, max: 60 }, { type: "logarithmic", min: 0.1, max: 3000 }),
    plugins: [specPlugin(d)],
  };
}

const FOURIER_DEF: SpecDef = {
  box: { left: 1330, top: 40, width: 986, height: 780 },
  area: { l: 1408.8, t: 125.3, r: 2249.3, b: 725.3 },
  title: "フーリエスペクトル", titleX: 1830.6, titleY: 91,
  note: "0.4Hz band smoothing", noteX: 2014.4, noteY: 95,
  unit: "cm/sec(gal·sec)", unitX: 1373, unitY: 104.5,
  legendY: 776,
  legend: [
    { label: "NS", color: RED, width: 2, textX: 1665, x0: 1689, x1: 1751 },
    { label: "EW", color: GREEN, width: 2, textX: 1801, x0: 1826, x1: 1887 },
    { label: "UD", color: BLUE, width: 2, textX: 1940, x0: 1963, x1: 2025 },
  ],
  datasets: [
    specDataset(FOURIER_NS_T, FOURIER_NS_A, RED, 2),
    specDataset(FOURIER_EW_T, FOURIER_EW_A, GREEN, 2),
    specDataset(FOURIER_UD_T, FOURIER_UD_A, BLUE, 2),
  ],
};

const RESP_DEF: SpecDef = {
  box: { left: 1330, top: 830, width: 986, height: 790 },
  area: { l: 1408.8, t: 911.5, r: 2249.3, b: 1511.5 },
  title: "相対速度応答スペクトル", titleX: 1829, titleY: 877,
  note: "h=5%", noteX: 2180.6, noteY: 880,
  unit: "cm/sec", unitX: 1374, unitY: 890,
  legendY: 1561,
  legend: [
    { label: "NS", color: RED, width: 2, textX: 1576.6, x0: 1598.4, x1: 1659.4 },
    { label: "EW", color: GREEN, width: 2, textX: 1732.3, x0: 1757.2, x1: 1819.5 },
    { label: "UD", color: BLUE, width: 2, textX: 1892.9, x0: 1916, x1: 1978.2 },
    { label: "Horizon", color: "#000", width: 4, textX: 2032.7, x0: 2076, x1: 2138.3 },
  ],
  datasets: [
    specDataset(RESP_NS_T, RESP_NS_V, RED, 1.8),
    specDataset(RESP_EW_T, RESP_EW_V, GREEN, 1.8),
    specDataset(RESP_UD_T, RESP_UD_V, BLUE, 1.8),
    specDataset(RESP_H_T, RESP_H_V, "#000", 3.8),
  ],
};

export default function App() {
  return (
    <div style={{ position: "absolute", left: 0, top: 0, width: W, height: H, background: "#fff", overflow: "hidden" }}>
      <ChartBox box={HEADER_BOX} build={buildHeader} />
      {PANELS.map((p, i) => (
        <ChartBox key={i} box={panelBox(p)} build={() => buildPanel(p)} />
      ))}
      <ChartBox box={INT_BOX} build={buildIntensity} />
      <ChartBox box={FOURIER_DEF.box} build={() => buildSpec(FOURIER_DEF)} />
      <ChartBox box={RESP_DEF.box} build={() => buildSpec(RESP_DEF)} />
    </div>
  );
}
